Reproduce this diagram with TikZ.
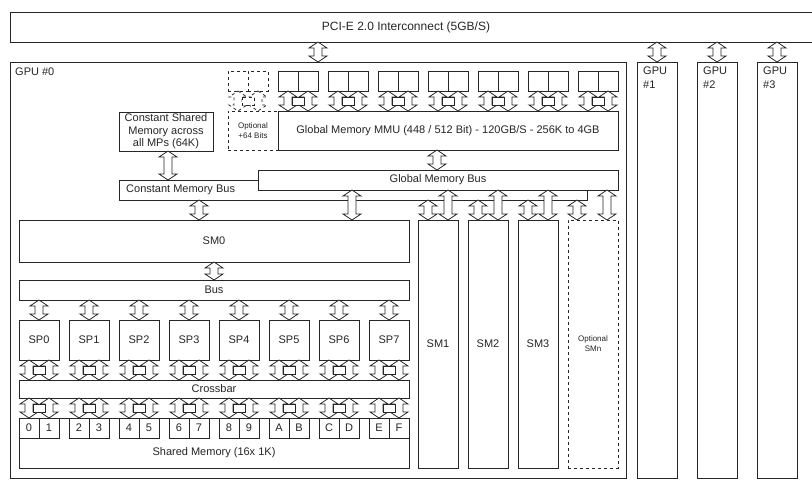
\documentclass[tikz,border=0pt]{standalone}
\usepackage{fontspec}
\setmainfont{Liberation Sans}
\newcommand\dar[4][]{\draw[arr,#1] ({#2},{#3}) -- ++(9,6) -- ++(-5,0) -- ({#2+4},{#4-6}) -- ++(5,0) -- ({#2},{#4}) -- ++(-9,-6) -- ++(5,0) -- ({#2-4},{#3+6}) -- ++(-5,0) -- cycle;}
\newcommand\pdar[4][]{\dar[#1]{#2-10}{#3}{#4}\dar[#1]{#2+10}{#3}{#4}\draw[arr,#1] ({#2-6},{#3+6}) rectangle ({#2+6},{#4-6});}
\begin{document}
\begin{tikzpicture}[x=1pt,y=-1pt,
  box/.style={draw=black!85, line width=0.9pt, fill=white, inner sep=0pt, outer sep=0pt,
              anchor=north west, font=\fontsize{11}{13}\selectfont, text=black!85},
  arr/.style={draw=black!85, line width=0.8pt, fill=white, line join=miter},
  lbl/.style={font=\fontsize{11}{13.5}\selectfont, inner sep=0pt, text=black!85},
  smallf/.style={font=\fontsize{8}{10}\selectfont, align=center},
]
\useasboundingbox (0,0) rectangle (812,490);
% PCI-E interconnect (open at the right edge)
\draw[black!85, line width=0.9pt] (812,12) -- (10,12) -- (10,42) -- (812,42);
\node[lbl, font=\fontsize{12}{14}\selectfont] (pci) at (406,27) {PCI-E 2.0 Interconnect (5GB/S)};
% GPU boxes
\node[box, minimum width=616, minimum height=416] (gpu0) at (10,62) {};
\node[lbl, anchor=north west] (gpu0l) at (15,68) {GPU \#0};
\foreach \g/\x in {1/637,2/697,3/757}{
  \node[box, minimum width=40, minimum height=416] (gpu\g) at (\x,62) {};
  \node[lbl, anchor=north west, align=left] (gpu\g l) at ({\x+6},67) {GPU\\\#\g};
  \dar{\x+20}{42}{62}
}
\dar{318}{42}{62}
% memory chips
\node[box, dashed, minimum size=20] (chipoa) at (228,71) {};
\node[box, dashed, minimum size=20] (chipob) at (248,71) {};
\pdar[dashed]{248}{91}{111}
\foreach \j in {0,...,6}{
  \node[box, minimum size=20] (chipA\j) at ({278+50*\j},71) {};
  \node[box, minimum size=20] (chipB\j) at ({298+50*\j},71) {};
  \pdar{298+50*\j}{91}{111}
}
\node[box, dashed, minimum width=50, minimum height=39, smallf] (opt64) at (228,111) {Optional\\+64 Bits};
\node[box, minimum width=340, minimum height=39] (mmu) at (278,111) {Global Memory MMU (448 / 512 Bit) - 120GB/S - 256K to 4GB};
\node[box, minimum width=94, minimum height=39, align=center, font=\fontsize{11}{12.5}\selectfont] (csm) at (119,112) {Constant Shared\\Memory across\\all MPs (64K)};
\dar{168}{151}{180}
\dar{437}{150}{170}
% buses
\node[box, minimum width=468, minimum height=20] (cmb) at (119,180) {};
\node[lbl, anchor=west] (cmbl) at (126,190) {Constant Memory Bus};
\node[box, minimum width=360, minimum height=20] (gmb) at (258,170) {Global Memory Bus};
% arrows to SMs
\dar{199}{200}{220}
\dar{352}{190}{220}
\foreach \x in {428,478,528,577}{\dar{\x}{200}{220}}
\foreach \x in {448,498,548,607}{\dar{\x}{190}{220}}
% SM0
\node[box, minimum width=390, minimum height=42] (sm0) at (19,220) {SM0};
\dar{214}{262}{280}
\node[box, minimum width=390, minimum height=20] (bus) at (19,280) {Bus};
\node[box, minimum width=390, minimum height=18] (xbar) at (19,380) {Crossbar};
\node[box, minimum width=390, minimum height=50] (shm) at (19,418) {};
\node[lbl] (shml) at (214,453) {Shared Memory (16x 1K)};
\foreach \k/\a/\b in {0/0/1,1/2/3,2/4/5,3/6/7,4/8/9,5/A/B,6/C/D,7/E/F}{
  \node[box, minimum width=40, minimum height=40] (sp\k) at ({19+50*\k},320) {SP\k};
  \dar{39+50*\k}{300}{320}
  \pdar{39+50*\k}{360}{380}
  \pdar{39+50*\k}{398}{418}
  \node[box, minimum size=20] (reg\a) at ({19+50*\k},418) {\a};
  \node[box, minimum size=20] (reg\b) at ({39+50*\k},418) {\b};
}
% SM1..SMn
\foreach \s/\x in {1/418,2/468,3/518}{
  \node[box, minimum width=40, minimum height=248] (sm\s) at (\x,220) {SM\s};
}
\node[box, dashed, minimum width=50, minimum height=248, smallf] (smn) at (568,220) {Optional\\SMn};
\end{tikzpicture}
\end{document}
